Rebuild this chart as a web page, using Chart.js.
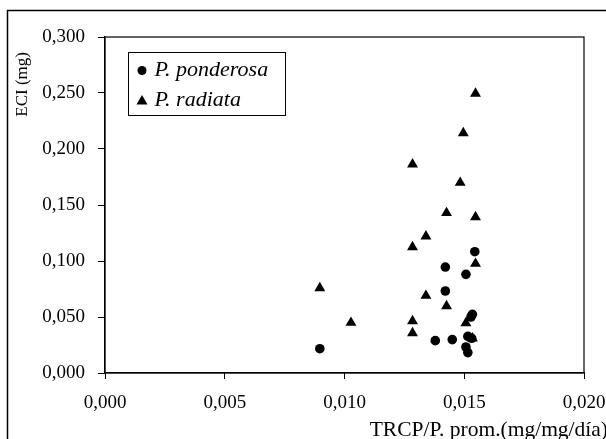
<!DOCTYPE html>
<html>
<head>
<meta charset="utf-8">
<script src="https://cdn.jsdelivr.net/npm/chart.js@4"></script>
<style>
  html, body { margin: 0; padding: 0; background: #fff; }
  #wrap { width: 606px; height: 439px; position: relative; }
</style>
</head>
<body>
<div id="wrap"><canvas id="chart" width="606" height="439"></canvas></div>
<script>
// series names
const seriesNames = ["P. ponderosa", "P. radiata"];
// P. ponderosa  (TRCP/P. prom., ECI)
const ponderosaX = [0.00897, 0.01421, 0.01421, 0.01507, 0.01544, 0.01534, 0.01528, 0.01379, 0.01450, 0.01515, 0.01531, 0.01507, 0.01515];
const ponderosaY = [0.0217, 0.0946, 0.0732, 0.0881, 0.1083, 0.0524, 0.0500, 0.0289, 0.0298, 0.0327, 0.0310, 0.0232, 0.0182];
// P. radiata
const radiataX = [0.01547, 0.01496, 0.01284, 0.01483, 0.01426, 0.01547, 0.01340, 0.01284, 0.01547, 0.00897, 0.01340, 0.01426, 0.01027, 0.01284, 0.01284, 0.01507, 0.01534];
const radiataY = [0.2494, 0.2143, 0.1863, 0.1699, 0.1429, 0.1393, 0.1220, 0.1125, 0.0976, 0.0759, 0.0690, 0.0598, 0.0449, 0.0464, 0.0357, 0.0446, 0.0310];
// axes
const xTicks = [0, 0.005, 0.010, 0.015, 0.020];
const yTicks = [0, 0.05, 0.10, 0.15, 0.20, 0.25, 0.30];
const xTitle = "TRCP/P. prom.(mg/mg/día)";
const yTitle = "ECI (mg)";

const FONT = "'Liberation Serif', 'Times New Roman', serif";
const toPoints = (xs, ys) => xs.map((x, i) => ({x: x, y: ys[i]}));
const fmt = v => Number(v).toFixed(3).replace('.', ',');

const decor = {
    id: 'decor',
    afterDraw(chart) {
        const ctx = chart.ctx, a = chart.chartArea;
        ctx.save();
        ctx.strokeStyle = '#000';
        // outer frame (runs off the right/bottom edge)
        ctx.lineWidth = 1.5;
        ctx.beginPath();
        ctx.moveTo(7.5, 450); ctx.lineTo(7.5, 10.5); ctx.lineTo(620, 10.5);
        ctx.stroke();
        // plot box
        ctx.lineWidth = 1.2;
        ctx.strokeRect(a.left, a.top, a.right - a.left, a.bottom - a.top);

        // axis titles
        ctx.fillStyle = '#000';
        ctx.font = "21.5px " + FONT;
        ctx.textAlign = 'right';
        ctx.textBaseline = 'alphabetic';
        ctx.fillText(xTitle, 608, 436);
        ctx.save();
        ctx.translate(27, 52);
        ctx.rotate(-Math.PI / 2);
        ctx.font = "17px " + FONT;
        ctx.textAlign = 'right';
        ctx.fillText(yTitle, 0, 0);
        ctx.restore();

        // legend
        const lx = 128.5, ly = 52.5, lw = 157, lh = 63;
        ctx.fillStyle = '#fff';
        ctx.fillRect(lx, ly, lw, lh);
        ctx.lineWidth = 1;
        ctx.strokeRect(lx, ly, lw, lh);
        ctx.fillStyle = '#000';
        ctx.font = "italic 22px " + FONT;
        ctx.textAlign = 'left';
        ctx.textBaseline = 'middle';
        chart.data.datasets.forEach((ds, i) => {
            const cy = ly + 18 + i * 30, cx = lx + 13.5;
            ctx.beginPath();
            if (ds.pointStyle === 'triangle') {
                ctx.moveTo(cx, cy - 5.5); ctx.lineTo(cx + 5.5, cy + 4); ctx.lineTo(cx - 5.5, cy + 4);
                ctx.closePath();
            } else {
                ctx.arc(cx, cy, 4.5, 0, Math.PI * 2);
            }
            ctx.fill();
            ctx.fillText(ds.label, lx + 26, cy);
        });
        ctx.restore();
    }
};

new Chart(document.getElementById('chart'), {
    type: 'scatter',
    data: {
        datasets: [
            { label: seriesNames[0], data: toPoints(ponderosaX, ponderosaY), pointStyle: 'circle',
              pointRadius: 4.8, backgroundColor: '#000', borderColor: '#000', borderWidth: 0 },
            { label: seriesNames[1], data: toPoints(radiataX, radiataY), pointStyle: 'triangle',
              pointRadius: 6.3, backgroundColor: '#000', borderColor: '#000', borderWidth: 0 }
        ]
    },
    options: {
        responsive: false, animation: false,
        layout: { padding: { top: 37, right: 0, left: 0, bottom: 0 } },
        plugins: { legend: { display: false }, tooltip: { enabled: false } },
        scales: {
            x: {
                type: 'linear', min: 0, max: 0.02,
                afterBuildTicks: s => { s.ticks = xTicks.map(v => ({value: v})); },
                afterFit: s => { s.height = 66; s.paddingRight = 22; },
                ticks: { color: '#000', font: { family: FONT, size: 19 }, padding: 13, maxRotation: 0,
                         callback: v => fmt(v) },
                grid: { drawOnChartArea: false, drawTicks: true, tickLength: 6, color: '#000', lineWidth: 1 },
                border: { color: '#000', width: 1.2 }
            },
            y: {
                type: 'linear', min: 0, max: 0.3,
                afterBuildTicks: s => { s.ticks = yTicks.map(v => ({value: v})); },
                afterFit: s => { s.width = 105; },
                ticks: { color: '#000', font: { family: FONT, size: 19 }, padding: 13,
                         callback: v => fmt(v) },
                grid: { drawOnChartArea: false, drawTicks: true, tickLength: 7, color: '#000', lineWidth: 1 },
                border: { color: '#000', width: 1.2 }
            }
        }
    },
    plugins: [decor]
});
</script>
</body>
</html>
